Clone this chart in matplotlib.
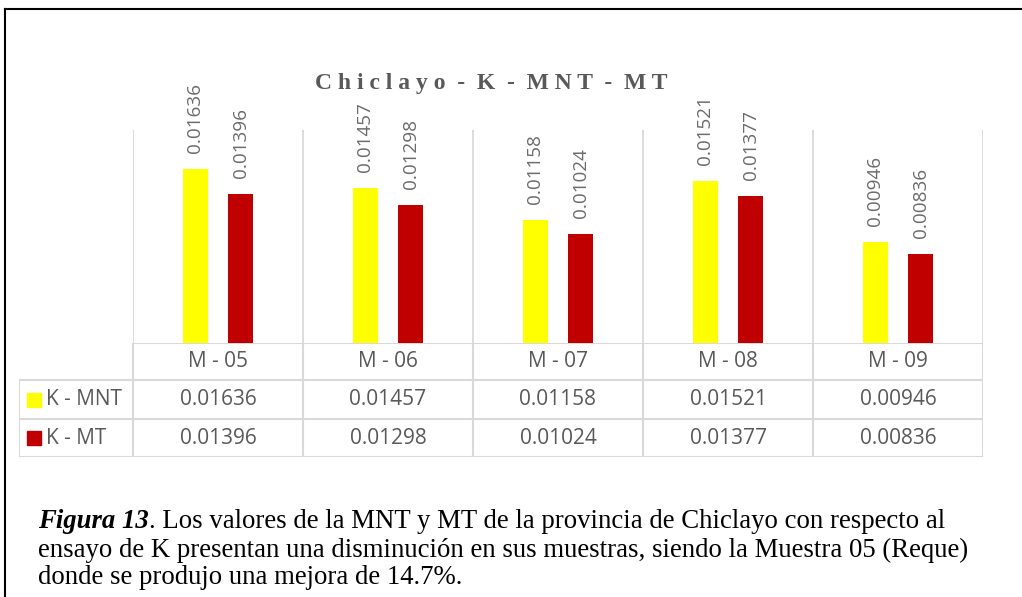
import numpy as np
import matplotlib
matplotlib.use("Agg")
import matplotlib.pyplot as plt
from matplotlib.patches import Rectangle
from matplotlib.lines import Line2D

# data
categories = ["M - 05", "M - 06", "M - 07", "M - 08", "M - 09"]
series_names = ["K - MNT", "K - MT"]
k_mnt = [0.01636, 0.01457, 0.01158, 0.01521, 0.00946]
k_mt = [0.01396, 0.01298, 0.01024, 0.01377, 0.00836]
colors = ["#FFFF00", "#C00000"]

W, H = 1022, 597
fig = plt.figure(figsize=(W / 100, H / 100), dpi=100)
GRID = "#D9D9D9"
TXT = "#595959"


def fx(px):
    return px / W


def fy(py):
    return 1 - py / H


# plot area, pixels 133..983 x 130..343
ax = fig.add_axes([fx(133), fy(343), fx(983) - fx(133), fy(130) - fy(343)])
x = np.arange(len(categories))
bw = 0.15
off = 0.133
bars1 = ax.bar(x - off, k_mnt, bw, color=colors[0])
bars2 = ax.bar(x + off, k_mt, bw, color=colors[1])
ax.set_xlim(-0.5, len(categories) - 0.5)
ax.set_ylim(0, 0.02)
for b in np.arange(-0.5, len(categories), 1.0):
    ax.axvline(b, color=GRID, lw=1.3, zorder=0)
for s in ax.spines.values():
    s.set_visible(False)
ax.set_xticks([])
ax.set_yticks([])

for bars, vals in [(bars1, k_mnt), (bars2, k_mt)]:
    for rect, v in zip(bars, vals):
        ax.annotate(f"{v:.5f}", (rect.get_x() + rect.get_width() / 2, v),
                    xytext=(0, 11.5), textcoords="offset points",
                    rotation=90, ha="center", va="bottom",
                    fontsize=13.6, color="#6b6b6b", family="Open Sans")

# title
fig.text(fx(491), fy(83), "C h i c l a y o  -  K  -  M N T  -  M T",
         ha="center", va="center", fontsize=17, fontweight="bold",
         color=TXT, family="Liberation Serif")

# data table below the plot
tab = fig.add_axes([fx(19), fy(457), fx(983) - fx(19), fy(343) - fy(457)])
left = -0.5 - 114 / 170
tab.set_xlim(left, len(categories) - 0.5)
tab.set_ylim(0, 114)
tab.axis("off")
row_y = [114, 77, 38, 0]
tab.add_line(Line2D([-0.5, len(categories) - 0.5], [114, 114], color=GRID, lw=1.5))
for yy in row_y[1:]:
    tab.add_line(Line2D([left, len(categories) - 0.5], [yy, yy], color=GRID, lw=1.5))
tab.add_line(Line2D([left, left], [0, 77], color=GRID, lw=1.5))
for b in np.arange(-0.5, len(categories), 1.0):
    tab.add_line(Line2D([b, b], [0, 114], color=GRID, lw=1.5))

for i, c in enumerate(categories):
    tab.text(i, 95.5, c, ha="center", va="center", fontsize=15, color=TXT, family="Open Sans")
for r, (name, vals, col) in enumerate(zip(series_names, [k_mnt, k_mt], colors)):
    yc = (row_y[r + 1] + row_y[r + 2]) / 2
    tab.add_patch(Rectangle((left + 8 / 170, yc - 7), 14 / 170, 14, color=col, clip_on=False))
    tab.text(left + 27 / 170, yc, name, ha="left", va="center", fontsize=15, color=TXT, family="Open Sans")
    for i, v in enumerate(vals):
        tab.text(i, yc, f"{v:.5f}", ha="center", va="center", fontsize=15, color=TXT, family="Open Sans")

# outer frame (top and left edges)
fig.add_artist(Line2D([fx(5), 1], [fy(9), fy(9)], color="black", lw=1.5))
fig.add_artist(Line2D([fx(5), fx(5)], [fy(9), 0], color="black", lw=1.5))

# caption
cap_font = dict(fontsize=19.3, color="black", family="Liberation Serif")
t = fig.text(fx(38), fy(522), "Figura 13", ha="left", va="center",
             fontstyle="italic", fontweight="bold", **cap_font)
fig.canvas.draw()
bb = t.get_window_extent()
fig.text(bb.x1 / W, fy(522),
         ". Los valores de la MNT y MT de la provincia de Chiclayo con respecto al",
         ha="left", va="center", **cap_font)
fig.text(fx(38), fy(550),
         "ensayo de K presentan una disminución en sus muestras, siendo la Muestra 05 (Reque)",
         ha="left", va="center", **cap_font)
fig.text(fx(38), fy(577), "donde se produjo una mejora de 14.7%.",
         ha="left", va="center", **cap_font)

fig.savefig("out.png", dpi=100)
